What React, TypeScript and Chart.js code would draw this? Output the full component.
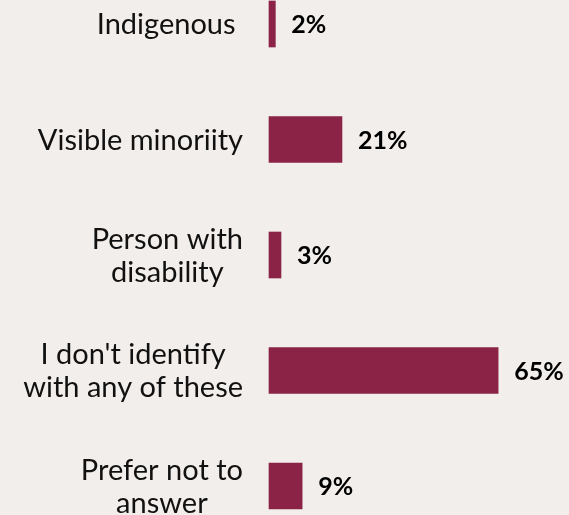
import React, { useEffect, useRef } from "react";
import { Chart, registerables } from "chart.js";

Chart.register(...registerables);

const categories: string[][] = [
  ["Indigenous "],
  ["Visible minoriity"],
  ["Person with", "disability"],
  ["I don't identify", "with any of these"],
  ["Prefer not to", "answer"],
];
const values: number[] = [1.8, 20.7, 3.4, 65, 9.4];
const valueLabels: string[] = ["2%", "21%", "3%", "65%", "9%"];

const BG = "#f2eeeb";
const BAR = "#8b2347";
const FONT = "Lato, 'DejaVu Sans', sans-serif";

const bgPlugin = {
  id: "bgFill",
  beforeDraw(chart: any) {
    const ctx = chart.ctx;
    ctx.save();
    ctx.fillStyle = BG;
    ctx.fillRect(0, 0, chart.width, chart.height);
    ctx.restore();
  },
};

const labelsPlugin = {
  id: "customLabels",
  afterDatasetsDraw(chart: any) {
    const ctx = chart.ctx;
    const meta = chart.getDatasetMeta(0);
    const yScale = chart.scales.y;
    const rightEdge = chart.chartArea.left - 26;
    ctx.save();
    // category labels: right-aligned blocks, lines centered within block
    ctx.font = `29px ${FONT}`;
    ctx.fillStyle = "#111111";
    ctx.textBaseline = "middle";
    ctx.textAlign = "center";
    const lineH = 33;
    categories.forEach((lines, i) => {
      const cy = yScale.getPixelForValue(i);
      const w = Math.max(...lines.map((l) => ctx.measureText(l).width));
      const cx = rightEdge - w / 2;
      lines.forEach((line, j) => {
        const y = cy + (j - (lines.length - 1) / 2) * lineH + 1;
        ctx.fillText(line, cx, y);
      });
    });
    // value labels
    ctx.font = `bold 25px ${FONT}`;
    ctx.fillStyle = "#000000";
    ctx.textAlign = "left";
    meta.data.forEach((bar: any, i: number) => {
      ctx.fillText(valueLabels[i], bar.x + 16, bar.y + 1);
    });
    ctx.restore();
  },
};

export default function App() {
  const canvasRef = useRef<HTMLCanvasElement | null>(null);

  useEffect(() => {
    if (!canvasRef.current) return;
    const chart = new Chart(canvasRef.current, {
      type: "bar",
      data: {
        labels: categories.map((c) => c.join(" ")),
        datasets: [
          {
            data: values,
            backgroundColor: BAR,
            borderWidth: 0,
            barThickness: 46,
            clip: false as any,
          },
        ],
      },
      options: {
        indexAxis: "y",
        animation: false,
        responsive: false,
        maintainAspectRatio: false,
        layout: { padding: { left: 269, right: 18, top: 24, bottom: 29 } },
        plugins: {
          legend: { display: false },
          tooltip: { enabled: false },
          title: { display: false },
        },
        scales: {
          x: { display: false, min: 0, max: 80 },
          y: { display: false, offset: false },
        },
      },
      plugins: [bgPlugin, labelsPlugin],
    });
    return () => chart.destroy();
  }, []);

  return (
    <div
      style={{
        position: "fixed",
        left: 0,
        top: 0,
        width: 569,
        height: 515,
        background: BG,
      }}
    >
      <canvas ref={canvasRef} width={569} height={515} style={{ display: "block" }} />
    </div>
  );
}
